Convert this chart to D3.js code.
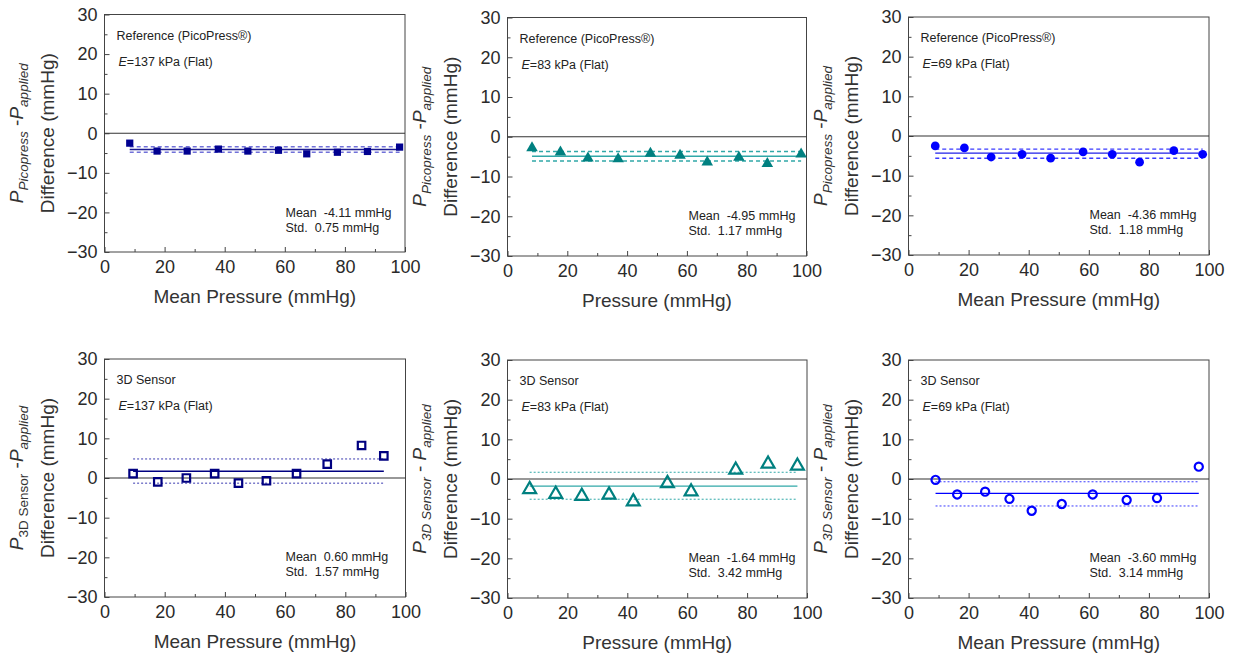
<!DOCTYPE html>
<html>
<head>
<meta charset="utf-8">
<script src="https://cdn.jsdelivr.net/npm/d3@7"></script>
<style>
  body { margin: 0; background: #fff; }
  svg { font-family: "Liberation Sans", Arial, sans-serif; }
  text { white-space: pre; }
</style>
</head>
<body>
<div id="chart"></div>
<script>
// x ticks and y ticks shared by all six panels
const xTicks = [0, 20, 40, 60, 80, 100];
const yTicks = [-30, -20, -10, 0, 10, 20, 30];

// Reference (PicoPress) data, E = 137 / 83 / 69 kPa
const ref137X = [8.4, 17.5, 27.5, 37.9, 47.7, 57.9, 67.3, 77.5, 87.5, 98.2];
const ref137Y = [-2.5, -4.5, -4.5, -4.0, -4.5, -4.3, -5.2, -4.8, -4.6, -3.5];
const ref137Lines = [-4.1, -3.4, -4.8];   // mean, upper, lower

const ref83X = [8.2, 17.7, 26.9, 37.0, 47.8, 57.7, 66.8, 77.4, 86.9, 98.2];
const ref83Y = [-2.8, -3.9, -5.4, -5.6, -4.2, -4.7, -6.4, -5.2, -6.8, -4.4];
const ref83Lines = [-4.9, -3.7, -6.1];

const ref69X = [8.9, 18.6, 27.5, 37.8, 47.3, 58.1, 67.8, 76.9, 88.3, 97.9];
const ref69Y = [-2.5, -3.0, -5.3, -4.6, -5.6, -4.0, -4.6, -6.6, -3.7, -4.6];
const ref69Lines = [-4.3, -3.3, -5.6];

// 3D sensor data
const sen137X = [9.5, 17.7, 27.2, 36.6, 44.5, 53.8, 63.8, 74.0, 85.4, 92.8];
const sen137Y = [1.1, -1.0, 0.0, 1.1, -1.3, -0.7, 1.1, 3.5, 8.2, 5.6];
const sen137Lines = [1.7, 4.8, -1.3];

const sen83X = [7.4, 16.1, 24.8, 33.9, 42.0, 53.4, 61.3, 76.2, 87.0, 96.8];
const sen83Y = [-2.6, -3.8, -4.3, -4.0, -5.7, -1.1, -3.2, 2.3, 3.8, 3.3];
const sen83Lines = [-1.8, 1.7, -5.1];

const sen69X = [9.0, 16.2, 25.5, 33.6, 41.0, 51.0, 61.3, 72.6, 82.7, 96.6];
const sen69Y = [-0.2, -3.9, -3.2, -5.0, -8.0, -6.3, -3.9, -5.3, -4.8, 3.1];
const sen69Lines = [-3.6, -0.7, -6.8];

const headers = ["Reference (PicoPress\u00ae)", "Reference (PicoPress\u00ae)", "Reference (PicoPress\u00ae)",
                 "3D Sensor", "3D Sensor", "3D Sensor"];
const moduli = ["=137 kPa (Flat)", "=83 kPa (Flat)", "=69 kPa (Flat)",
                "=137 kPa (Flat)", "=83 kPa (Flat)", "=69 kPa (Flat)"];
const meanTexts = ["Mean  -4.11 mmHg", "Mean  -4.95 mmHg", "Mean  -4.36 mmHg",
                   "Mean  0.60 mmHg", "Mean  -1.64 mmHg", "Mean  -3.60 mmHg"];
const stdTexts = ["Std.  0.75 mmHg", "Std.  1.17 mmHg", "Std.  1.18 mmHg",
                  "Std.  1.57 mmHg", "Std.  3.42 mmHg", "Std.  3.14 mmHg"];
const xTitles = ["Mean Pressure (mmHg)", "Pressure (mmHg)", "Mean Pressure (mmHg)",
                 "Mean Pressure (mmHg)", "Pressure (mmHg)", "Mean Pressure (mmHg)"];

// layout and styles for each panel
const panels = [
  { xs: ref137X, ys: ref137Y, lines: ref137Lines, left: 104.5, top: 14.5, w: 300.5, h: 237.5,
    sym: d3.symbolSquare, size: 52, fill: "#000090", stroke: "none", sw: 0,
    mean: "#1a1a90", band: "#7070d8", dash: "4,3", bw: 1.6, sub: "Picopress", subItalic: true, minus: " -" },
  { xs: ref83X, ys: ref83Y, lines: ref83Lines, left: 507.5, top: 17.5, w: 299, h: 238.5,
    sym: d3.symbolTriangle, size: 58, fill: "#008080", stroke: "none", sw: 0,
    mean: "#30a8a8", band: "#30a8a8", dash: "4,3", bw: 1.4, sub: "Picopress", subItalic: true, minus: " -" },
  { xs: ref69X, ys: ref69Y, lines: ref69Lines, left: 908.5, top: 17, w: 300.5, h: 238,
    sym: d3.symbolCircle, size: 60, fill: "#0000ff", stroke: "none", sw: 0,
    mean: "#2020e8", band: "#3a3aff", dash: "4,3", bw: 1.4, sub: "Picopress", subItalic: true, minus: " -" },
  { xs: sen137X, ys: sen137Y, lines: sen137Lines, left: 104.5, top: 359, w: 301, h: 238,
    sym: d3.symbolSquare, size: 56, fill: "none", stroke: "#000080", sw: 2.2,
    mean: "#000080", band: "#3a3ab0", dash: "2,2", bw: 1, sub: "3D Sensor", subItalic: false, minus: " -" },
  { xs: sen83X, ys: sen83Y, lines: sen83Lines, left: 507.5, top: 360, w: 299.5, h: 238,
    sym: d3.symbolTriangle, size: 72, fill: "none", stroke: "#008080", sw: 2.2,
    mean: "#30a8a8", band: "#30a8a8", dash: "2,2", bw: 1, sub: "3D Sensor", subItalic: true, minus: " - " },
  { xs: sen69X, ys: sen69Y, lines: sen69Lines, left: 908.5, top: 360, w: 300.5, h: 238,
    sym: d3.symbolCircle, size: 52, fill: "none", stroke: "#0000ff", sw: 2.2,
    mean: "#0000ff", band: "#3a3aff", dash: "2,2", bw: 1, sub: "3D Sensor", subItalic: true, minus: " - " }
];

const svg = d3.select("#chart").append("svg")
  .attr("width", 1234)
  .attr("height", 658);

panels.forEach((p, i) => {
  const x = d3.scaleLinear().domain([0, 100]).range([p.left, p.left + p.w]);
  const y = d3.scaleLinear().domain([-30, 30]).range([p.top + p.h, p.top]);
  const g = svg.append("g");

  // minor ticks
  g.append("g")
    .attr("transform", `translate(0,${p.top + p.h})`)
    .call(d3.axisBottom(x).tickValues(d3.range(10, 100, 20)).tickSize(-3).tickFormat(""))
    .call(a => a.select(".domain").remove())
    .selectAll("line").attr("stroke", "#444");
  g.append("g")
    .attr("transform", `translate(${p.left},0)`)
    .call(d3.axisLeft(y).tickValues(d3.range(-25, 30, 10)).tickSize(-3).tickFormat(""))
    .call(a => a.select(".domain").remove())
    .selectAll("line").attr("stroke", "#444");

  // major ticks + labels
  const xa = g.append("g")
    .attr("transform", `translate(0,${p.top + p.h})`)
    .call(d3.axisBottom(x).tickValues(xTicks).tickSize(-5).tickPadding(8))
    .call(a => a.select(".domain").remove());
  const ya = g.append("g")
    .attr("transform", `translate(${p.left},0)`)
    .call(d3.axisLeft(y).tickValues(yTicks).tickSize(-5).tickPadding(7))
    .call(a => a.select(".domain").remove());
  [xa, ya].forEach(a => {
    a.selectAll("line").attr("stroke", "#444");
    a.selectAll("text").attr("font-size", 18).attr("fill", "#2a2a2a")
      .attr("font-family", "'Liberation Sans', Arial, sans-serif");
  });

  // frame
  g.append("rect")
    .attr("x", p.left).attr("y", p.top)
    .attr("width", p.w).attr("height", p.h)
    .attr("fill", "none").attr("stroke", "#444").attr("stroke-width", 1);

  // zero line
  g.append("line")
    .attr("x1", x(0)).attr("x2", x(100))
    .attr("y1", y(0)).attr("y2", y(0))
    .attr("stroke", "#333").attr("stroke-width", 1.2);

  // mean and +/- std lines across the data range
  const x0 = x(d3.min(p.xs)), x1 = x(d3.max(p.xs));
  p.lines.forEach((v, k) => {
    g.append("line")
      .attr("x1", x0).attr("x2", x1)
      .attr("y1", y(v)).attr("y2", y(v))
      .attr("stroke", k === 0 ? p.mean : p.band)
      .attr("stroke-width", k === 0 ? 1.3 : p.bw)
      .attr("stroke-dasharray", k === 0 ? null : p.dash);
  });

  // markers
  g.selectAll("path.pt")
    .data(p.xs.map((d, j) => ({ x: d, y: p.ys[j] })))
    .join("path")
    .attr("class", "pt")
    .attr("transform", d => `translate(${x(d.x)},${y(d.y)})`)
    .attr("d", d3.symbol().type(p.sym).size(p.size))
    .attr("fill", p.fill)
    .attr("stroke", p.stroke)
    .attr("stroke-width", p.sw);

  // panel annotations
  g.append("text")
    .attr("x", p.left + 12).attr("y", p.top + 25)
    .attr("font-size", 12.5).attr("fill", "#222")
    .text(headers[i]);
  const e = g.append("text")
    .attr("x", p.left + 14).attr("y", p.top + 51)
    .attr("font-size", 12.5).attr("fill", "#222");
  e.append("tspan").attr("font-style", "italic").text("E");
  e.append("tspan").text(moduli[i]);
  g.append("text")
    .attr("x", p.left + 181).attr("y", p.top + 202)
    .attr("font-size", 12.5).attr("fill", "#222")
    .text(meanTexts[i]);
  g.append("text")
    .attr("x", p.left + 181).attr("y", p.top + 217)
    .attr("font-size", 12.5).attr("fill", "#222")
    .text(stdTexts[i]);

  // x title
  g.append("text")
    .attr("x", p.left + p.w / 2).attr("y", p.top + p.h + 51)
    .attr("text-anchor", "middle")
    .attr("font-size", 19).attr("fill", "#333")
    .text(xTitles[i]);

  // y title, two lines
  const cy = p.top + p.h / 2;
  const t1 = g.append("text")
    .attr("transform", `translate(${p.left - 82},${cy}) rotate(-90)`)
    .attr("text-anchor", "middle")
    .attr("font-size", 19).attr("fill", "#333");
  t1.append("tspan").attr("font-style", "italic").text("P");
  t1.append("tspan").attr("font-size", 13.5).attr("dy", 5)
    .attr("font-style", p.subItalic ? "italic" : "normal").text(p.sub);
  t1.append("tspan").attr("dy", -5).text(p.minus);
  t1.append("tspan").attr("font-style", "italic").text("P");
  t1.append("tspan").attr("font-size", 13.5).attr("dy", 5)
    .attr("font-style", "italic").text("applied");

  g.append("text")
    .attr("transform", `translate(${p.left - 51},${cy}) rotate(-90)`)
    .attr("text-anchor", "middle")
    .attr("font-size", 19).attr("fill", "#333")
    .text("Difference (mmHg)");
});
</script>
</body>
</html>
